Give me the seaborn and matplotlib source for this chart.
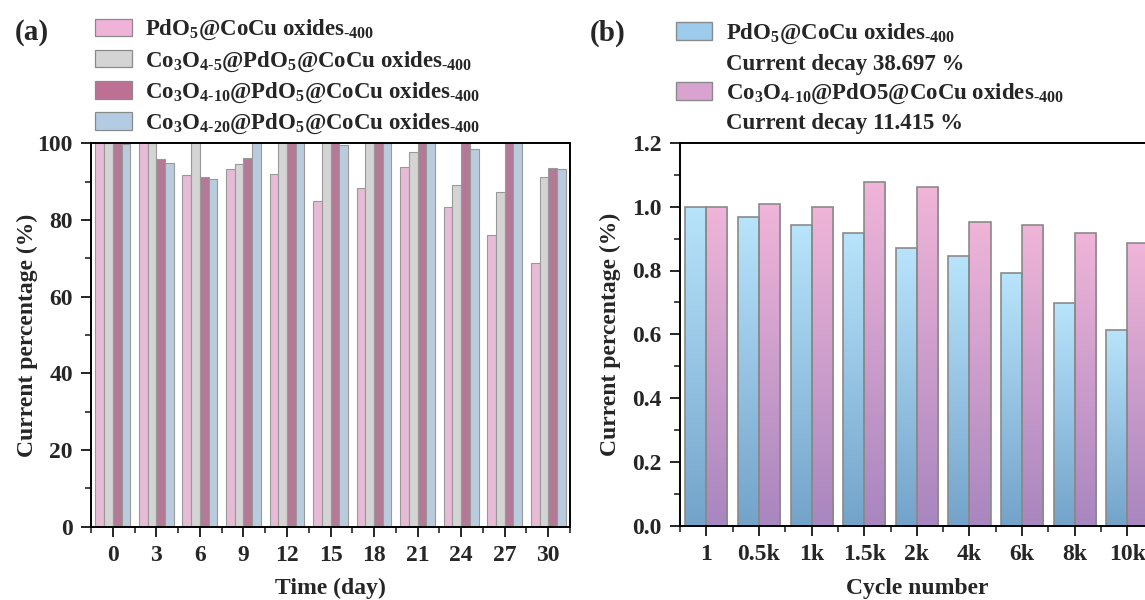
import matplotlib
matplotlib.use('Agg')
import matplotlib.pyplot as plt
from matplotlib.patches import Patch
from matplotlib.colors import LinearSegmentedColormap
from matplotlib.ticker import MultipleLocator
import seaborn as sns
import numpy as np
import pandas as pd

# (a) current retention over 30 days
days = ['0', '3', '6', '9', '12', '15', '18', '21', '24', '27', '30']
series_a = ['PdO$_5$@CoCu oxides$_{\\text{-}400}$',
            'Co$_3$O$_{4\\text{-}5}$@PdO$_5$@CoCu oxides$_{\\text{-}400}$',
            'Co$_3$O$_{4\\text{-}10}$@PdO$_5$@CoCu oxides$_{\\text{-}400}$',
            'Co$_3$O$_{4\\text{-}20}$@PdO$_5$@CoCu oxides$_{\\text{-}400}$']
pdo5 = [100, 101.5, 91.6, 93.2, 92.1, 85.0, 88.4, 93.8, 83.3, 76.0, 68.7]
co3o4_5 = [100, 100, 102, 94.7, 102, 102, 102, 97.8, 89.0, 87.3, 91.2]
co3o4_10 = [100, 95.8, 91.3, 96.1, 102, 102, 102, 102, 100, 102, 93.5]
co3o4_20 = [99.8, 94.9, 90.7, 102, 102, 99.5, 100.1, 102, 98.4, 102, 93.3]
colors_a = ['#efb3d8', '#d4d4d4', '#bd7094', '#b3cce4']

# (b) current retention over cycles
cycles = ['1', '0.5k', '1k', '1.5k', '2k', '4k', '6k', '8k', '10k']
series_b = ['PdO$_5$@CoCu oxides$_{\\text{-}400}$',
            'Co$_3$O$_{4\\text{-}10}$@PdO5@CoCu oxides$_{\\text{-}400}$']
decay_b = ['Current decay 38.697 %', 'Current decay 11.415 %']
pdo5_cyc = [1.0, 0.969, 0.941, 0.916, 0.872, 0.845, 0.791, 0.697, 0.613]
co3o4_10_cyc = [1.0, 1.008, 0.999, 1.076, 1.060, 0.952, 0.941, 0.918, 0.886]
grad_b = [('#74a3ca', '#b8e4fb'), ('#a886bf', '#f0b5d8')]

sns.set_theme(style='ticks')
plt.rcParams['font.family'] = ['Liberation Serif', 'DejaVu Serif']
plt.rcParams['font.weight'] = 'bold'
plt.rcParams['axes.labelweight'] = 'bold'
plt.rcParams['mathtext.fontset'] = 'custom'
plt.rcParams['mathtext.rm'] = 'Liberation Serif:bold'
plt.rcParams['mathtext.it'] = 'Liberation Serif:bold'
plt.rcParams['mathtext.bf'] = 'Liberation Serif:bold'
plt.rcParams['mathtext.default'] = 'rm'

fig = plt.figure(figsize=(11.45, 6.0), dpi=100)
ax1 = fig.add_axes([0.0795, 0.1222, 0.4183, 0.639])
ax2 = fig.add_axes([0.5939, 0.1233, 0.4137, 0.6388])

df_a = pd.DataFrame({
    'day': np.tile(days, 4),
    'sample': np.repeat(series_a, len(days)),
    'value': pdo5 + co3o4_5 + co3o4_10 + co3o4_20,
})
sns.barplot(data=df_a, x='day', y='value', hue='sample', order=days,
            hue_order=series_a, palette=colors_a, width=0.8,
            edgecolor='#999999', linewidth=0.8, legend=False, ax=ax1)
ax1.set_xlim(-0.5, 10.5)
ax1.set_ylim(0, 100)
ax1.yaxis.set_major_locator(MultipleLocator(20))
ax1.yaxis.set_minor_locator(MultipleLocator(10))
ax1.set_xticks(np.arange(-0.5, 11, 1), minor=True)
ax1.set_xlabel('Time (day)', fontsize=17, labelpad=9)
ax1.set_ylabel('Current percentage (%)', fontsize=17, labelpad=0)

df_b = pd.DataFrame({
    'cycle': np.tile(cycles, 2),
    'sample': np.repeat(series_b, len(cycles)),
    'value': pdo5_cyc + co3o4_10_cyc,
})
sns.barplot(data=df_b, x='cycle', y='value', hue='sample', order=cycles,
            hue_order=series_b, palette=['#9ccbeb', '#d9a3cf'], width=0.8,
            edgecolor='#8a8a8a', linewidth=1.2, legend=False, ax=ax2)

# vertical gradient fill inside each bar
grad = np.linspace(0, 1, 256).reshape(-1, 1)
bars = list(ax2.patches)
n = len(cycles)
for i, bar in enumerate(bars):
    lo, hi = grad_b[i // n]
    cmap = LinearSegmentedColormap.from_list('g', [lo, hi])
    x0, w, h = bar.get_x(), bar.get_width(), bar.get_height()
    im = ax2.imshow(grad, extent=[x0, x0 + w, 0, h], origin='lower',
                    aspect='auto', cmap=cmap, zorder=bar.get_zorder() - 0.1)
    im.set_clip_path(bar)
    bar.set_facecolor('none')

ax2.set_xlim(-0.5, 8.5)
ax2.set_ylim(0, 1.2)
ax2.yaxis.set_major_locator(MultipleLocator(0.2))
ax2.yaxis.set_minor_locator(MultipleLocator(0.1))
ax2.set_xticks(np.arange(-0.5, 9, 1), minor=True)
ax2.set_xlabel('Cycle number', fontsize=17, labelpad=9)
ax2.set_ylabel('Current percentage (%)', fontsize=17, labelpad=8)

for ax in (ax1, ax2):
    for s in ax.spines.values():
        s.set_linewidth(1.4)
        s.set_color('black')
    ax.tick_params(which='major', direction='out', length=7, width=1.4,
                   labelsize=17, pad=6)
    ax.tick_params(which='minor', direction='out', length=4, width=1.2)
    for lab in ax.get_xticklabels() + ax.get_yticklabels():
        lab.set_fontweight('bold')

# legends
handles_a = [Patch(facecolor=c, edgecolor='#8a8a8a', linewidth=0.9)
             for c in colors_a]
ax1.legend(handles_a, series_a, loc='upper left',
           bbox_to_anchor=(0.075, 0.985), bbox_transform=fig.transFigure,
           frameon=False, fontsize=16.5, handlelength=1.6, handleheight=0.8,
           handletextpad=0.6, labelspacing=0.3, borderaxespad=0)

blank = Patch(facecolor='none', edgecolor='none')
handles_b = [Patch(facecolor='#9ccbeb', edgecolor='#8a8a8a'), blank,
             Patch(facecolor='#d9a3cf', edgecolor='#8a8a8a'), blank]
labels_b = [series_b[0], decay_b[0], series_b[1], decay_b[1]]
ax2.legend(handles_b, labels_b, loc='upper left',
           bbox_to_anchor=(0.582, 0.979), bbox_transform=fig.transFigure,
           frameon=False, fontsize=16.5, handlelength=1.6, handleheight=0.8,
           handletextpad=0.6, labelspacing=0.3, borderaxespad=0)

fig.text(0.013, 0.945, '(a)', fontsize=21, fontweight='bold', va='center')
fig.text(0.515, 0.945, '(b)', fontsize=21, fontweight='bold', va='center')

fig.savefig('out.png', dpi=100)
